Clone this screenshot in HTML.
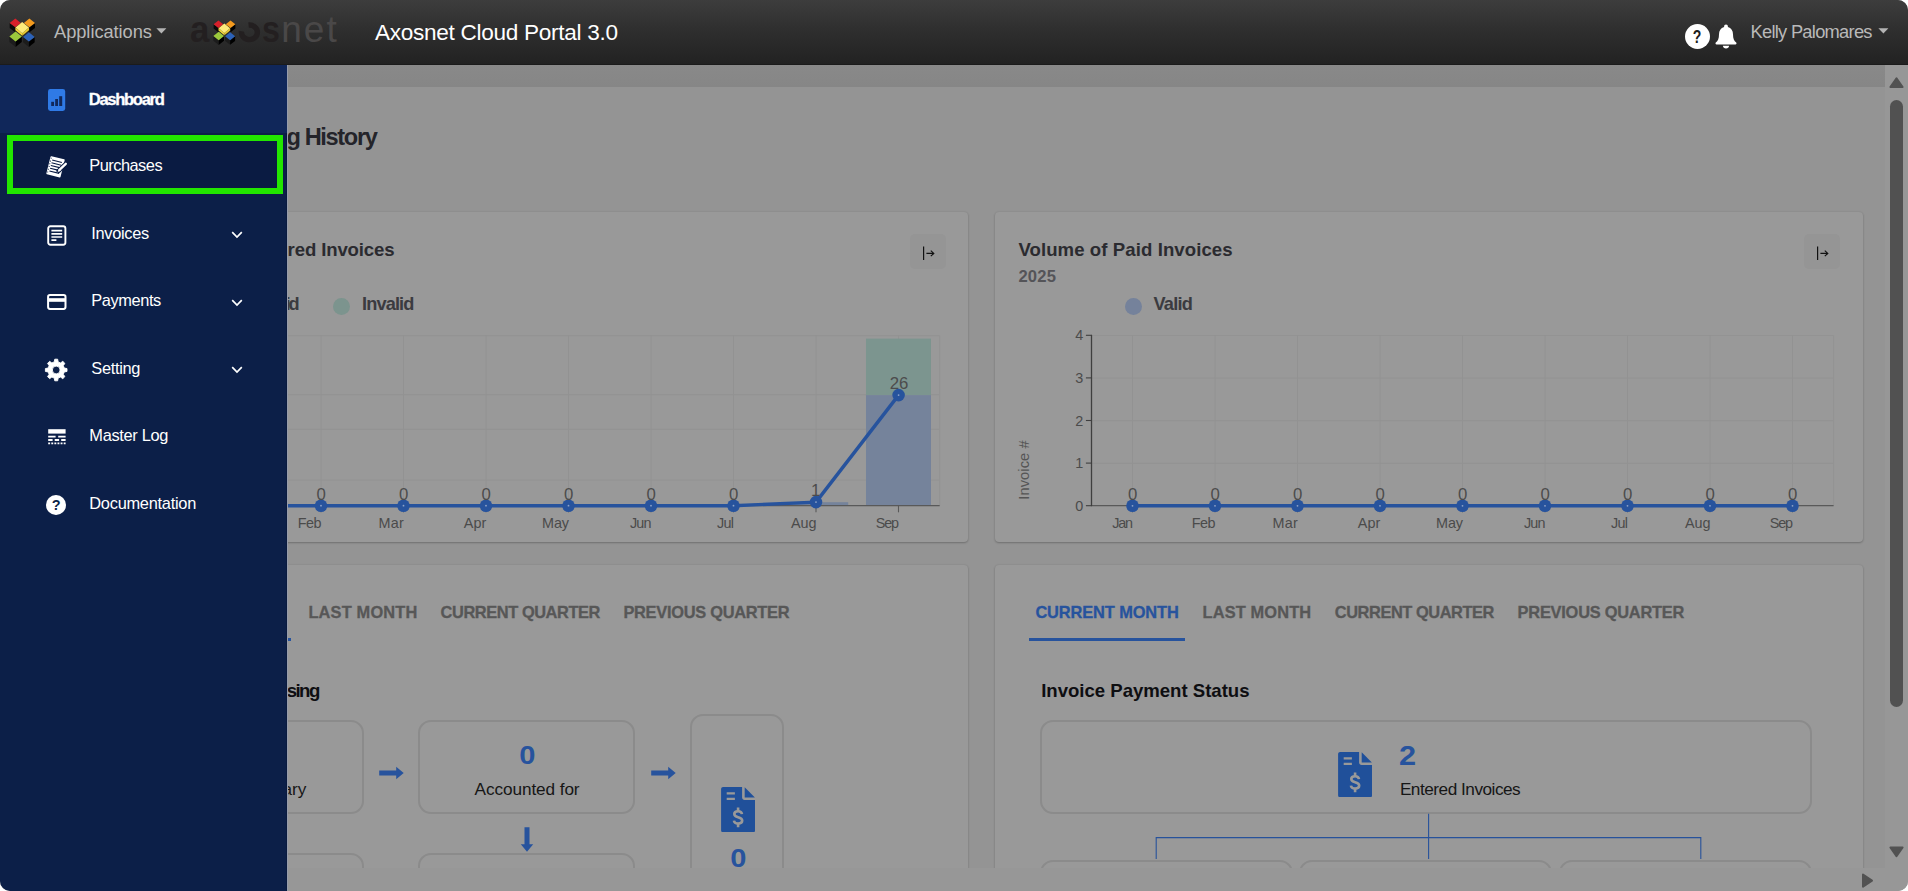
<!DOCTYPE html>
<html lang="en">
<head>
<meta charset="utf-8">
<title>Axosnet Cloud Portal 3.0</title>
<style>
*{box-sizing:border-box;margin:0;padding:0}
html,body{width:1908px;height:891px;overflow:hidden;background:#fff;font-family:"Liberation Sans",sans-serif}
#app{position:absolute;left:0;top:0;width:1908px;height:891px;border-radius:10px;overflow:hidden;background:#949494}
.abs{position:absolute}
.t{position:absolute;white-space:nowrap;line-height:1;font-family:"Liberation Sans",sans-serif}
.b{font-weight:bold}
/* header */
#hdr{position:absolute;left:0;top:0;width:1908px;height:65px;background:linear-gradient(#3d3d3d 0%,#2f2f2f 45%,#222 100%);border-bottom:1px solid #1b1b1b}
/* sidebar */
#side{position:absolute;left:0;top:65px;width:287px;height:826px;background:#0c1f48;border-right:1px solid #0a1a3e}
#edge{position:absolute;left:287px;top:65px;width:1px;height:826px;background:#969cab}
#side .act{position:absolute;left:0;top:0;width:287px;height:68px;background:#10275a}
#side .hl{position:absolute;left:7px;top:70px;width:276px;height:59px;border:6px solid #22e600;background:#0a1b42}
/* main */
#main{position:absolute;left:287px;top:65px;width:1598px;height:803px;overflow:hidden;background:#949494}
#band{position:absolute;left:0;top:0;width:1598px;height:22px;background:linear-gradient(#898989,#868686)}
.card{position:absolute;background:#999;border-radius:4px;box-shadow:0 1px 2px rgba(0,0,0,.22),0 0 2px rgba(0,0,0,.10)}
.box{position:absolute;border:2px solid #8c8c8c;border-radius:12px}
/* scrollbars */
#vsb{position:absolute;left:1885px;top:65px;width:23px;height:803px;background:#979797}
#hsb{position:absolute;left:287px;top:868px;width:1621px;height:23px;background:#979797}
</style>
</head>
<body>
<div id="app">

<!-- MAIN CONTENT (dimmed by modal backdrop) -->
<div id="main">
<div id="band"></div>
<div class="card" style="left:-187.00px;top:147.00px;width:868.00px;height:330.00px;"></div>
<div class="card" style="left:708.00px;top:147.00px;width:868.00px;height:330.00px;"></div>
<div class="card" style="left:-187.00px;top:500.00px;width:868.00px;height:420.00px;"></div>
<div class="card" style="left:708.00px;top:500.00px;width:868.00px;height:420.00px;"></div>
<div class="abs" style="left:623.20px;top:169.20px;width:35.80px;height:34.40px;background:#959595;border-radius:5px"></div>
<svg class="abs" style="left:634.70px;top:180.20px" width="14" height="16" viewBox="0 0 14 16"><path d="M1.6 1.6V15" stroke="#111" stroke-width="1.2" fill="none"/><path d="M4.4 8.4H11.6M8.8 5.6L11.8 8.4L8.8 11.2" stroke="#111" stroke-width="1.15" fill="none"/></svg>
<div class="abs" style="left:1517.30px;top:169.40px;width:35.80px;height:34.40px;background:#959595;border-radius:5px"></div>
<svg class="abs" style="left:1528.80px;top:180.40px" width="14" height="16" viewBox="0 0 14 16"><path d="M1.6 1.6V15" stroke="#111" stroke-width="1.2" fill="none"/><path d="M4.4 8.4H11.6M8.8 5.6L11.8 8.4L8.8 11.2" stroke="#111" stroke-width="1.15" fill="none"/></svg>
<div class="abs" style="left:46.00px;top:232.90px;width:17.00px;height:17.00px;background:#7c948e;border-radius:50%"></div>
<svg class="abs" style="left:0.00px;top:257.00px" width="666.70" height="218" viewBox="0 0 666.70 218"><path d="M-89.70 13.70H652.70" stroke="#939393" stroke-width="1"/><path d="M-89.70 72.70H652.70" stroke="#939393" stroke-width="1"/><path d="M-89.70 107.30H652.70" stroke="#939393" stroke-width="1"/><path d="M-89.70 158.10H652.70" stroke="#939393" stroke-width="1"/><path d="M34.00 13.50V183.50" stroke="#939393" stroke-width="1"/><path d="M116.50 13.50V183.50" stroke="#939393" stroke-width="1"/><path d="M199.00 13.50V183.50" stroke="#939393" stroke-width="1"/><path d="M281.50 13.50V183.50" stroke="#939393" stroke-width="1"/><path d="M364.00 13.50V183.50" stroke="#939393" stroke-width="1"/><path d="M446.50 13.50V183.50" stroke="#939393" stroke-width="1"/><path d="M529.00 13.50V183.50" stroke="#939393" stroke-width="1"/><path d="M611.50 13.50V183.50" stroke="#939393" stroke-width="1"/><path d="M652.70 13.50V183.50" stroke="#939393" stroke-width="1"/><rect x="579.00" y="16.60" width="65.00" height="56.50" fill="#7c958f"/><rect x="579.00" y="73.10" width="65.00" height="110.40" fill="#75839b"/><rect x="496.20" y="180.20" width="65.00" height="3.30" fill="#75839b"/><path d="M-89.70 183.60H652.70" stroke="#595959" stroke-width="1.3"/><path d="M34.00 183.60V190.30" stroke="#595959" stroke-width="1.1"/><path d="M116.50 183.60V190.30" stroke="#595959" stroke-width="1.1"/><path d="M199.00 183.60V190.30" stroke="#595959" stroke-width="1.1"/><path d="M281.50 183.60V190.30" stroke="#595959" stroke-width="1.1"/><path d="M364.00 183.60V190.30" stroke="#595959" stroke-width="1.1"/><path d="M446.50 183.60V190.30" stroke="#595959" stroke-width="1.1"/><path d="M529.00 183.60V190.30" stroke="#595959" stroke-width="1.1"/><path d="M611.50 183.60V190.30" stroke="#595959" stroke-width="1.1"/><path d="M-48.50 183.70 L34.00 183.70 L116.50 183.70 L199.00 183.70 L281.50 183.70 L364.00 183.70 L446.50 183.70 L529.00 180.10 L611.60 73.10" fill="none" stroke="#27539d" stroke-width="3.4" stroke-linejoin="round"/><circle cx="34.00" cy="183.70" r="6.3" fill="#27539d"/><circle cx="34.00" cy="183.70" r="0.9" fill="#8ea3c8"/><circle cx="116.50" cy="183.70" r="6.3" fill="#27539d"/><circle cx="116.50" cy="183.70" r="0.9" fill="#8ea3c8"/><circle cx="199.00" cy="183.70" r="6.3" fill="#27539d"/><circle cx="199.00" cy="183.70" r="0.9" fill="#8ea3c8"/><circle cx="281.50" cy="183.70" r="6.3" fill="#27539d"/><circle cx="281.50" cy="183.70" r="0.9" fill="#8ea3c8"/><circle cx="364.00" cy="183.70" r="6.3" fill="#27539d"/><circle cx="364.00" cy="183.70" r="0.9" fill="#8ea3c8"/><circle cx="446.50" cy="183.70" r="6.3" fill="#27539d"/><circle cx="446.50" cy="183.70" r="0.9" fill="#8ea3c8"/><circle cx="529.00" cy="180.10" r="6.3" fill="#27539d"/><circle cx="529.00" cy="180.10" r="0.9" fill="#8ea3c8"/><circle cx="611.60" cy="73.10" r="6.3" fill="#27539d"/><circle cx="611.60" cy="73.10" r="0.9" fill="#8ea3c8"/></svg>
<div class="abs" style="left:837.90px;top:232.60px;width:17.00px;height:17.00px;background:#75829b;border-radius:50%"></div>
<svg class="abs" style="left:783.00px;top:257.00px" width="777.60" height="218" viewBox="0 0 777.60 218"><path d="M21.50 13.50H763.60" stroke="#939393" stroke-width="1"/><path d="M21.50 56.10H763.60" stroke="#939393" stroke-width="1"/><path d="M21.50 98.70H763.60" stroke="#939393" stroke-width="1"/><path d="M21.50 141.30H763.60" stroke="#939393" stroke-width="1"/><path d="M62.50 13.50V183.50" stroke="#939393" stroke-width="1"/><path d="M145.00 13.50V183.50" stroke="#939393" stroke-width="1"/><path d="M227.50 13.50V183.50" stroke="#939393" stroke-width="1"/><path d="M310.00 13.50V183.50" stroke="#939393" stroke-width="1"/><path d="M392.50 13.50V183.50" stroke="#939393" stroke-width="1"/><path d="M475.00 13.50V183.50" stroke="#939393" stroke-width="1"/><path d="M557.50 13.50V183.50" stroke="#939393" stroke-width="1"/><path d="M640.00 13.50V183.50" stroke="#939393" stroke-width="1"/><path d="M722.50 13.50V183.50" stroke="#939393" stroke-width="1"/><path d="M763.60 13.50V183.50" stroke="#939393" stroke-width="1"/><path d="M21.50 183.60H763.60" stroke="#595959" stroke-width="1.3"/><path d="M62.50 183.60V190.30" stroke="#595959" stroke-width="1.1"/><path d="M145.00 183.60V190.30" stroke="#595959" stroke-width="1.1"/><path d="M227.50 183.60V190.30" stroke="#595959" stroke-width="1.1"/><path d="M310.00 183.60V190.30" stroke="#595959" stroke-width="1.1"/><path d="M392.50 183.60V190.30" stroke="#595959" stroke-width="1.1"/><path d="M475.00 183.60V190.30" stroke="#595959" stroke-width="1.1"/><path d="M557.50 183.60V190.30" stroke="#595959" stroke-width="1.1"/><path d="M640.00 183.60V190.30" stroke="#595959" stroke-width="1.1"/><path d="M722.50 183.60V190.30" stroke="#595959" stroke-width="1.1"/><path d="M21.50 12.80V184.20" stroke="#3f3f3f" stroke-width="1.3"/><path d="M15.90 183.70H21.50" stroke="#3f3f3f" stroke-width="1.1"/><path d="M15.90 141.10H21.50" stroke="#3f3f3f" stroke-width="1.1"/><path d="M15.90 98.50H21.50" stroke="#3f3f3f" stroke-width="1.1"/><path d="M15.90 55.90H21.50" stroke="#3f3f3f" stroke-width="1.1"/><path d="M15.90 13.30H21.50" stroke="#3f3f3f" stroke-width="1.1"/><path d="M62.50 183.80 L145.00 183.80 L227.50 183.80 L310.00 183.80 L392.50 183.80 L475.00 183.80 L557.50 183.80 L640.00 183.80 L722.50 183.80" fill="none" stroke="#27539d" stroke-width="3.4" stroke-linejoin="round"/><circle cx="62.50" cy="183.80" r="6.3" fill="#27539d"/><circle cx="62.50" cy="183.80" r="0.9" fill="#8ea3c8"/><circle cx="145.00" cy="183.80" r="6.3" fill="#27539d"/><circle cx="145.00" cy="183.80" r="0.9" fill="#8ea3c8"/><circle cx="227.50" cy="183.80" r="6.3" fill="#27539d"/><circle cx="227.50" cy="183.80" r="0.9" fill="#8ea3c8"/><circle cx="310.00" cy="183.80" r="6.3" fill="#27539d"/><circle cx="310.00" cy="183.80" r="0.9" fill="#8ea3c8"/><circle cx="392.50" cy="183.80" r="6.3" fill="#27539d"/><circle cx="392.50" cy="183.80" r="0.9" fill="#8ea3c8"/><circle cx="475.00" cy="183.80" r="6.3" fill="#27539d"/><circle cx="475.00" cy="183.80" r="0.9" fill="#8ea3c8"/><circle cx="557.50" cy="183.80" r="6.3" fill="#27539d"/><circle cx="557.50" cy="183.80" r="0.9" fill="#8ea3c8"/><circle cx="640.00" cy="183.80" r="6.3" fill="#27539d"/><circle cx="640.00" cy="183.80" r="0.9" fill="#8ea3c8"/><circle cx="722.50" cy="183.80" r="6.3" fill="#27539d"/><circle cx="722.50" cy="183.80" r="0.9" fill="#8ea3c8"/></svg>
<div class="t" style="left:697.60px;top:396.50px;width:80px;height:16px;text-align:center;font-size:14.6px;color:#555;transform:rotate(-90deg);letter-spacing:0.1px">Invoice #</div>
<div class="abs" style="left:-153.00px;top:572.80px;width:156.80px;height:3.00px;background:#27539d"></div>
<div class="abs" style="left:-140.50px;top:655.20px;width:217.00px;height:94.00px;border:2px solid #8b8b8b;border-radius:13px"></div>
<div class="abs" style="left:131.40px;top:655.20px;width:217.00px;height:94.00px;border:2px solid #8b8b8b;border-radius:13px"></div>
<div class="abs" style="left:403.20px;top:649.20px;width:93.40px;height:200.00px;border:2px solid #8b8b8b;border-radius:13px"></div>
<div class="abs" style="left:-140.50px;top:788.40px;width:217.00px;height:93.00px;border:2px solid #8b8b8b;border-radius:13px"></div>
<div class="abs" style="left:131.40px;top:788.40px;width:217.00px;height:93.00px;border:2px solid #8b8b8b;border-radius:13px"></div>
<svg class="abs" style="left:91.60px;top:700.90px" width="26" height="14" viewBox="0 0 26 14"><path d="M0.2 4.5H17.2V0.8L24.7 7L17.2 13.2V9.5H0.2Z" fill="#27539d"/></svg>
<svg class="abs" style="left:363.80px;top:700.90px" width="26" height="14" viewBox="0 0 26 14"><path d="M0.2 4.5H17.2V0.8L24.7 7L17.2 13.2V9.5H0.2Z" fill="#27539d"/></svg>
<svg class="abs" style="left:233.00px;top:761.60px" width="14" height="26" viewBox="0 0 14 26"><path d="M4.5 0.2H9.5V17.2H13.2L7 24.7L0.8 17.2H4.5Z" fill="#27539d"/></svg>
<svg class="abs" style="left:433.70px;top:721.90px" width="34.2" height="45.5" viewBox="0 0 34 45.5"><path d="M2 0H21V10.5C21 11.9 22.1 13 23.5 13H34V43.5C34 44.6 33.1 45.5 32 45.5H2C0.9 45.5 0 44.6 0 43.5V2C0 0.9 0.9 0 2 0Z" fill="#20509a"/><path d="M23.6 0.2L33.8 10.4H23.6Z" fill="#20509a"/><path d="M5.6 6.4H13.8M5.6 11.8H13.8" stroke="#999" stroke-width="2.2"/><path d="M20.9 27.1C20.6 25.1 19.1 24.2 17 24.2C14.8 24.2 13.2 25.3 13.2 27.1C13.2 28.9 14.6 29.6 17 30.2C19.5 30.8 21.1 31.6 21.1 33.5C21.1 35.4 19.3 36.6 17 36.6C14.6 36.6 13.1 35.5 12.8 33.6" fill="none" stroke="#999" stroke-width="2.6"/><path d="M17 20.6V24.8M17 36.0V40.2" stroke="#999" stroke-width="2.6"/></svg>
<div class="abs" style="left:742.00px;top:572.80px;width:156.00px;height:3.00px;background:#27539d"></div>
<div class="abs" style="left:753.40px;top:655.20px;width:771.40px;height:93.40px;border:2px solid #8b8b8b;border-radius:13px"></div>
<svg class="abs" style="left:1050.60px;top:686.80px" width="34.2" height="45.5" viewBox="0 0 34 45.5"><path d="M2 0H21V10.5C21 11.9 22.1 13 23.5 13H34V43.5C34 44.6 33.1 45.5 32 45.5H2C0.9 45.5 0 44.6 0 43.5V2C0 0.9 0.9 0 2 0Z" fill="#20509a"/><path d="M23.6 0.2L33.8 10.4H23.6Z" fill="#20509a"/><path d="M5.6 6.4H13.8M5.6 11.8H13.8" stroke="#999" stroke-width="2.2"/><path d="M20.9 27.1C20.6 25.1 19.1 24.2 17 24.2C14.8 24.2 13.2 25.3 13.2 27.1C13.2 28.9 14.6 29.6 17 30.2C19.5 30.8 21.1 31.6 21.1 33.5C21.1 35.4 19.3 36.6 17 36.6C14.6 36.6 13.1 35.5 12.8 33.6" fill="none" stroke="#999" stroke-width="2.6"/><path d="M17 20.6V24.8M17 36.0V40.2" stroke="#999" stroke-width="2.6"/></svg>
<svg class="abs" style="left:863px;top:748px" width="560" height="50" viewBox="0 0 560 50"><path d="M278.6 0.8V46M6.2 46V24.6H550.8V46" fill="none" stroke="#27529b" stroke-width="1.1"/></svg>
<div class="abs" style="left:753.40px;top:794.80px;width:253.00px;height:80.00px;border:2px solid #8b8b8b;border-radius:13px"></div>
<div class="abs" style="left:1012.40px;top:794.80px;width:253.00px;height:80.00px;border:2px solid #8b8b8b;border-radius:13px"></div>
<div class="abs" style="left:1271.80px;top:794.80px;width:253.00px;height:80.00px;border:2px solid #8b8b8b;border-radius:13px"></div>
<div class="t" style="left:-0.60px;top:61px;font-size:23.6px;color:#24242a;letter-spacing:-1.346px;font-weight:bold;">g History</div>
<div class="t" style="left:0.60px;top:176px;font-size:18.6px;color:#2b2b30;letter-spacing:-0.138px;font-weight:bold;">red Invoices</div>
<div class="t" style="left:1.48px;top:230px;font-size:18.2px;color:#3b3b40;font-weight:bold;">d</div>
<div class="t" style="left:-1.40px;top:230px;font-size:18.2px;color:#3b3b40;font-weight:bold;">i</div>
<div class="t" style="left:75.00px;top:230px;font-size:18.2px;color:#3b3b40;letter-spacing:-0.868px;font-weight:bold;">Invalid</div>
<div class="t" style="left:10.80px;top:451px;font-size:14.4px;color:#4b4b4b;letter-spacing:-0.606px;">Feb</div>
<div class="t" style="left:91.50px;top:451px;font-size:14.4px;color:#4b4b4b;letter-spacing:0.302px;">Mar</div>
<div class="t" style="left:176.80px;top:451px;font-size:14.4px;color:#4b4b4b;letter-spacing:0.097px;">Apr</div>
<div class="t" style="left:255.10px;top:451px;font-size:14.4px;color:#4b4b4b;letter-spacing:-0.194px;">May</div>
<div class="t" style="left:343.00px;top:451px;font-size:14.4px;color:#4b4b4b;letter-spacing:-0.902px;">Jun</div>
<div class="t" style="left:430.10px;top:451px;font-size:14.4px;color:#4b4b4b;letter-spacing:-0.803px;">Jul</div>
<div class="t" style="left:504.10px;top:451px;font-size:14.4px;color:#4b4b4b;letter-spacing:-0.155px;">Aug</div>
<div class="t" style="left:588.80px;top:451px;font-size:14.4px;color:#4b4b4b;letter-spacing:-1.255px;">Sep</div>
<div class="t" style="left:29.53px;top:422px;font-size:16.8px;color:#4c4c4c;">0</div>
<div class="t" style="left:112.03px;top:422px;font-size:16.8px;color:#4c4c4c;">0</div>
<div class="t" style="left:194.53px;top:422px;font-size:16.8px;color:#4c4c4c;">0</div>
<div class="t" style="left:277.03px;top:422px;font-size:16.8px;color:#4c4c4c;">0</div>
<div class="t" style="left:359.53px;top:422px;font-size:16.8px;color:#4c4c4c;">0</div>
<div class="t" style="left:442.03px;top:422px;font-size:16.8px;color:#4c4c4c;">0</div>
<div class="t" style="left:523.93px;top:418px;font-size:16.8px;color:#4c4c4c;">1</div>
<div class="t" style="left:602.66px;top:311px;font-size:16.8px;color:#4c4c4c;">26</div>
<div class="t" style="left:731.40px;top:176px;font-size:18.6px;color:#2b2b30;letter-spacing:0.077px;font-weight:bold;">Volume of Paid Invoices</div>
<div class="t" style="left:731.40px;top:204px;font-size:16.6px;color:#545458;letter-spacing:0.226px;font-weight:bold;">2025</div>
<div class="t" style="left:866.40px;top:230px;font-size:18.2px;color:#3b3b40;letter-spacing:-0.717px;font-weight:bold;">Valid</div>
<div class="t" style="left:825.30px;top:451px;font-size:14.4px;color:#4b4b4b;letter-spacing:-1.302px;">Jan</div>
<div class="t" style="left:904.80px;top:451px;font-size:14.4px;color:#4b4b4b;letter-spacing:-0.606px;">Feb</div>
<div class="t" style="left:985.50px;top:451px;font-size:14.4px;color:#4b4b4b;letter-spacing:0.302px;">Mar</div>
<div class="t" style="left:1070.80px;top:451px;font-size:14.4px;color:#4b4b4b;letter-spacing:0.097px;">Apr</div>
<div class="t" style="left:1149.10px;top:451px;font-size:14.4px;color:#4b4b4b;letter-spacing:-0.194px;">May</div>
<div class="t" style="left:1237.00px;top:451px;font-size:14.4px;color:#4b4b4b;letter-spacing:-0.902px;">Jun</div>
<div class="t" style="left:1324.10px;top:451px;font-size:14.4px;color:#4b4b4b;letter-spacing:-0.803px;">Jul</div>
<div class="t" style="left:1398.10px;top:451px;font-size:14.4px;color:#4b4b4b;letter-spacing:-0.155px;">Aug</div>
<div class="t" style="left:1482.80px;top:451px;font-size:14.4px;color:#4b4b4b;letter-spacing:-1.255px;">Sep</div>
<div class="t" style="left:841.03px;top:422px;font-size:16.8px;color:#4c4c4c;">0</div>
<div class="t" style="left:923.53px;top:422px;font-size:16.8px;color:#4c4c4c;">0</div>
<div class="t" style="left:1006.03px;top:422px;font-size:16.8px;color:#4c4c4c;">0</div>
<div class="t" style="left:1088.53px;top:422px;font-size:16.8px;color:#4c4c4c;">0</div>
<div class="t" style="left:1171.03px;top:422px;font-size:16.8px;color:#4c4c4c;">0</div>
<div class="t" style="left:1253.53px;top:422px;font-size:16.8px;color:#4c4c4c;">0</div>
<div class="t" style="left:1336.03px;top:422px;font-size:16.8px;color:#4c4c4c;">0</div>
<div class="t" style="left:1418.53px;top:422px;font-size:16.8px;color:#4c4c4c;">0</div>
<div class="t" style="left:1501.03px;top:422px;font-size:16.8px;color:#4c4c4c;">0</div>
<div class="t" style="left:788.18px;top:434px;font-size:14.4px;color:#4b4b4b;">0</div>
<div class="t" style="left:788.18px;top:391px;font-size:14.4px;color:#4b4b4b;">1</div>
<div class="t" style="left:788.18px;top:349px;font-size:14.4px;color:#4b4b4b;">2</div>
<div class="t" style="left:788.18px;top:306px;font-size:14.4px;color:#4b4b4b;">3</div>
<div class="t" style="left:788.18px;top:263px;font-size:14.4px;color:#4b4b4b;">4</div>
<div class="t" style="left:21.40px;top:539px;font-size:16.4px;color:#575757;letter-spacing:0.174px;font-weight:bold;-webkit-text-stroke:0.3px currentColor;">LAST MONTH</div>
<div class="t" style="left:153.60px;top:539px;font-size:16.4px;color:#575757;letter-spacing:-0.424px;font-weight:bold;-webkit-text-stroke:0.3px currentColor;">CURRENT QUARTER</div>
<div class="t" style="left:336.40px;top:539px;font-size:16.4px;color:#575757;letter-spacing:-0.274px;font-weight:bold;-webkit-text-stroke:0.3px currentColor;">PREVIOUS QUARTER</div>
<div class="t" style="left:-0.30px;top:617px;font-size:18.6px;color:#0e0e11;letter-spacing:-1.545px;font-weight:bold;">sing</div>
<div class="t" style="left:-4.59px;top:716px;font-size:17.2px;color:#161616;">ary</div>
<div class="t" style="left:232.66px;top:677px;font-size:26.4px;color:#27539d;font-weight:bold;transform:scaleX(1.1);">0</div>
<div class="t" style="left:187.60px;top:716px;font-size:17.2px;color:#161616;letter-spacing:-0.089px;">Accounted for</div>
<div class="t" style="left:443.66px;top:780px;font-size:26.4px;color:#27539d;font-weight:bold;transform:scaleX(1.1);">0</div>
<div class="t" style="left:748.40px;top:539px;font-size:16.4px;color:#27539d;letter-spacing:-0.115px;font-weight:bold;-webkit-text-stroke:0.3px currentColor;">CURRENT MONTH</div>
<div class="t" style="left:915.60px;top:539px;font-size:16.4px;color:#575757;letter-spacing:0.129px;font-weight:bold;-webkit-text-stroke:0.3px currentColor;">LAST MONTH</div>
<div class="t" style="left:1047.80px;top:539px;font-size:16.4px;color:#575757;letter-spacing:-0.438px;font-weight:bold;-webkit-text-stroke:0.3px currentColor;">CURRENT QUARTER</div>
<div class="t" style="left:1230.60px;top:539px;font-size:16.4px;color:#575757;letter-spacing:-0.234px;font-weight:bold;-webkit-text-stroke:0.3px currentColor;">PREVIOUS QUARTER</div>
<div class="t" style="left:754.20px;top:617px;font-size:18.6px;color:#0e0e11;letter-spacing:-0.021px;font-weight:bold;">Invoice Payment Status</div>
<div class="t" style="left:1112.00px;top:676px;font-size:28.4px;color:#27539d;font-weight:bold;transform:scaleX(1.08);transform-origin:0 0;">2</div>
<div class="t" style="left:1112.90px;top:716px;font-size:17.2px;color:#161616;letter-spacing:-0.482px;">Entered Invoices</div>
</div>

<!-- SCROLLBARS -->
<div id="vsb">
<svg class="abs" style="left:0;top:0" width="23" height="803" viewBox="0 0 23 803">
<path d="M11.5 13.2 L17.6 22 L5.4 22 Z" fill="#525252" stroke="#525252" stroke-width="2" stroke-linejoin="round"/>
<rect x="5" y="35" width="13" height="607" rx="6.5" fill="#515151"/>
<path d="M5.4 782.5 L17.6 782.5 L11.5 791.3 Z" fill="#525252" stroke="#525252" stroke-width="2" stroke-linejoin="round"/>
</svg>
</div>
<div id="hsb">
<svg class="abs" style="left:0;top:0" width="1621" height="23" viewBox="0 0 1621 23">
<path d="M1576 6.5 L1585 12.6 L1576 18.7 Z" fill="#525252" stroke="#525252" stroke-width="2" stroke-linejoin="round"/>
</svg>
</div>

<div id="edge"></div>
<!-- SIDEBAR -->
<div id="side">
<div class="act"></div>
<div class="hl"></div>
<svg class="abs" style="left:47.6px;top:24px" width="18" height="22" viewBox="0 0 18 22"><rect x="0" y="0" width="17.2" height="22" rx="2.4" fill="#2f7ae6"/><rect x="3.2" y="12.8" width="2.8" height="4.2" fill="#11285b"/><rect x="7.2" y="10" width="2.8" height="7" fill="#11285b"/><rect x="11.2" y="7.2" width="3" height="9.8" fill="#11285b"/></svg>
<svg class="abs" style="left:44px;top:90px" width="24" height="24" viewBox="0 0 24 24"><g transform="rotate(14 12 12)"><rect x="4.2" y="2.6" width="14.6" height="18.6" rx="0.8" fill="#fff"/><g stroke="#0a1b42" stroke-width="1.15"><path d="M6.6 6.2H16.6M6.6 9H16.6M6.6 11.8H16.6M6.6 14.6H16.6M6.6 17.4H16.6"/></g><g fill="#0a1b42"><circle cx="5.2" cy="4.6" r="0.55"/><circle cx="5.2" cy="7.6" r="0.55"/><circle cx="5.2" cy="10.4" r="0.55"/><circle cx="5.2" cy="13.2" r="0.55"/><circle cx="5.2" cy="16" r="0.55"/><circle cx="5.2" cy="18.8" r="0.55"/></g></g><path d="M21.6 9.0 L14.6 15.8" stroke="#0a1b42" stroke-width="4.4" stroke-linecap="round"/><path d="M21.8 8.8 L15.2 15.2" stroke="#fff" stroke-width="2.3" stroke-linecap="round"/><path d="M15.9 14.2 L13.0 17.6 L16.9 15.6 Z" fill="#fff"/></svg>
<svg class="abs" style="left:46.6px;top:159.6px" width="20" height="21" viewBox="0 0 20 21"><rect x="1.2" y="1.2" width="17.2" height="18.6" rx="2.2" fill="none" stroke="#fff" stroke-width="1.9"/><path d="M4.4 5.6H15.2M4.4 8.8H15.2M4.4 12H15.2M4.4 15.2H9.4" stroke="#fff" stroke-width="1.7"/></svg>
<svg class="abs" style="left:231px;top:166.4px" width="12" height="8" viewBox="0 0 12 8"><path d="M1.2 1.2 L6 6 L10.8 1.2" fill="none" stroke="#fff" stroke-width="1.7"/></svg>
<svg class="abs" style="left:46.6px;top:229.2px" width="20" height="17" viewBox="0 0 20 17"><rect x="1.1" y="1.1" width="17.4" height="13.8" rx="1.8" fill="none" stroke="#fff" stroke-width="2"/><rect x="1.1" y="4.2" width="17.4" height="3.6" fill="#fff"/></svg>
<svg class="abs" style="left:231px;top:233.6px" width="12" height="8" viewBox="0 0 12 8"><path d="M1.2 1.2 L6 6 L10.8 1.2" fill="none" stroke="#fff" stroke-width="1.7"/></svg>
<svg class="abs" style="left:44px;top:293px" width="24" height="24" viewBox="0 0 24 24"><path d="M10.26 3.93 L10.75 1.20 L13.65 1.20 L14.14 3.93 L16.54 4.92 L18.81 3.34 L20.86 5.39 L19.28 7.66 L20.27 10.06 L23.00 10.55 L23.00 13.45 L20.27 13.94 L19.28 16.34 L20.86 18.61 L18.81 20.66 L16.54 19.08 L14.14 20.07 L13.65 22.80 L10.75 22.80 L10.26 20.07 L7.86 19.08 L5.59 20.66 L3.54 18.61 L5.12 16.34 L4.13 13.94 L1.40 13.45 L1.40 10.55 L4.13 10.06 L5.12 7.66 L3.54 5.39 L5.59 3.34 L7.86 4.92 Z M8.299999999999999 12 a3.9 3.9 0 1 0 7.8 0 a3.9 3.9 0 1 0 -7.8 0 Z" fill="#fff" fill-rule="evenodd" stroke="#fff" stroke-width="0.9" stroke-linejoin="round"/></svg>
<svg class="abs" style="left:231px;top:301.3px" width="12" height="8" viewBox="0 0 12 8"><path d="M1.2 1.2 L6 6 L10.8 1.2" fill="none" stroke="#fff" stroke-width="1.7"/></svg>
<svg class="abs" style="left:47.6px;top:364.4px" width="18" height="16" viewBox="0 0 18 16"><rect x="0.2" y="0.2" width="17.4" height="4.4" fill="#fff"/><path d="M0.2 7.6H7.6M10.2 7.6H17.6" stroke="#fff" stroke-width="1.8"/><path d="M0.2 11H4.6M6.7 11H11.1M13.2 11H17.6" stroke="#fff" stroke-width="1.8"/><path d="M0.2 14.4H2.1M3.3 14.4H5.2M6.4 14.4H8.3M9.5 14.4H11.4M12.6 14.4H14.5M15.7 14.4H17.6" stroke="#fff" stroke-width="1.8"/></svg>
<div class="abs" style="left:46.4px;top:430.2px;width:19.8px;height:19.8px;border-radius:50%;background:#fff"></div>
<div class="t" style="left:88.80px;top:27px;font-size:16.6px;color:#ffffff;letter-spacing:-1.334px;font-weight:bold;-webkit-text-stroke:0.3px #fff;">Dashboard</div>
<div class="t" style="left:89.30px;top:92px;font-size:16.4px;color:#ffffff;letter-spacing:-0.519px;">Purchases</div>
<div class="t" style="left:91.30px;top:160px;font-size:16.4px;color:#ffffff;letter-spacing:-0.320px;">Invoices</div>
<div class="t" style="left:91.30px;top:227px;font-size:16.4px;color:#ffffff;letter-spacing:-0.413px;">Payments</div>
<div class="t" style="left:91.30px;top:295px;font-size:16.4px;color:#ffffff;letter-spacing:-0.322px;">Setting</div>
<div class="t" style="left:89.30px;top:362px;font-size:16.4px;color:#ffffff;letter-spacing:-0.322px;">Master Log</div>
<div class="t" style="left:51.87px;top:433px;font-size:14.5px;color:#0c1f48;font-weight:bold;">?</div>
<div class="t" style="left:89.30px;top:430px;font-size:16.4px;color:#ffffff;letter-spacing:-0.271px;">Documentation</div>
</div>

<!-- HEADER -->
<div id="hdr">
<svg class="abs" style="left:9.1px;top:17.9px" width="27.00" height="30.00" viewBox="0 0 27 30"><path d="M0.7000000000000002 4.9 L6.3 9.2 L6.3 14.2 L0.7000000000000002 9.9 Z" fill="#0a0a0a"/><path d="M11.899999999999999 4.9 L6.3 9.2 L6.3 14.2 L11.899999999999999 9.9 Z" fill="#000"/><path d="M6.3 0.6000000000000005 L11.899999999999999 4.9 L6.3 9.2 L0.7000000000000002 4.9 Z" fill="#d7202a"/><path d="M14.799999999999999 4.9 L20.4 9.2 L20.4 14.2 L14.799999999999999 9.9 Z" fill="#0a0a0a"/><path d="M26.0 4.9 L20.4 9.2 L20.4 14.2 L26.0 9.9 Z" fill="#000"/><path d="M20.4 0.6000000000000005 L26.0 4.9 L20.4 9.2 L14.799999999999999 4.9 Z" fill="#f39a1e"/><path d="M0.39999999999999947 18.6 L6.6 23.6 L6.6 29.0 L0.39999999999999947 24.0 Z" fill="#1c1c1c"/><path d="M12.8 18.6 L6.6 23.6 L6.6 29.0 L12.8 24.0 Z" fill="#000"/><path d="M6.6 13.600000000000001 L12.8 18.6 L6.6 23.6 L0.39999999999999947 18.6 Z" fill="#9bc93c"/><path d="M14.099999999999998 18.9 L19.9 23.5 L19.9 28.9 L14.099999999999998 24.299999999999997 Z" fill="#1c1c1c"/><path d="M25.7 18.9 L19.9 23.5 L19.9 28.9 L25.7 24.299999999999997 Z" fill="#000"/><path d="M19.9 14.299999999999999 L25.7 18.9 L19.9 23.5 L14.099999999999998 18.9 Z" fill="#2c62b8"/><path d="M6.3999999999999995 9.6 L13.2 15.2 L13.2 17.8 L6.3999999999999995 12.2 Z" fill="#f2d63a"/><path d="M20.0 9.6 L13.2 15.2 L13.2 17.8 L20.0 12.2 Z" fill="#e9c92d"/><path d="M13.2 4.0 L20.0 9.6 L13.2 15.2 L6.3999999999999995 9.6 Z" fill="#fdea7a"/></svg>
<svg class="abs" style="left:155.5px;top:27.6px" width="11" height="6" viewBox="0 0 11 6"><path d="M0.4 0.3 L10.4 0.3 L5.4 5.5 Z" fill="#b4b4b4"/></svg>
<svg class="abs" style="left:213.2px;top:20.2px" width="23.22" height="25.80" viewBox="0 0 27 30"><path d="M0.7000000000000002 4.9 L6.3 9.2 L6.3 14.2 L0.7000000000000002 9.9 Z" fill="#0a0a0a"/><path d="M11.899999999999999 4.9 L6.3 9.2 L6.3 14.2 L11.899999999999999 9.9 Z" fill="#000"/><path d="M6.3 0.6000000000000005 L11.899999999999999 4.9 L6.3 9.2 L0.7000000000000002 4.9 Z" fill="#d7202a"/><path d="M14.799999999999999 4.9 L20.4 9.2 L20.4 14.2 L14.799999999999999 9.9 Z" fill="#0a0a0a"/><path d="M26.0 4.9 L20.4 9.2 L20.4 14.2 L26.0 9.9 Z" fill="#000"/><path d="M20.4 0.6000000000000005 L26.0 4.9 L20.4 9.2 L14.799999999999999 4.9 Z" fill="#f39a1e"/><path d="M0.39999999999999947 18.6 L6.6 23.6 L6.6 29.0 L0.39999999999999947 24.0 Z" fill="#1c1c1c"/><path d="M12.8 18.6 L6.6 23.6 L6.6 29.0 L12.8 24.0 Z" fill="#000"/><path d="M6.6 13.600000000000001 L12.8 18.6 L6.6 23.6 L0.39999999999999947 18.6 Z" fill="#9bc93c"/><path d="M14.099999999999998 18.9 L19.9 23.5 L19.9 28.9 L14.099999999999998 24.299999999999997 Z" fill="#1c1c1c"/><path d="M25.7 18.9 L19.9 23.5 L19.9 28.9 L25.7 24.299999999999997 Z" fill="#000"/><path d="M19.9 14.299999999999999 L25.7 18.9 L19.9 23.5 L14.099999999999998 18.9 Z" fill="#2c62b8"/><path d="M6.3999999999999995 9.6 L13.2 15.2 L13.2 17.8 L6.3999999999999995 12.2 Z" fill="#f2d63a"/><path d="M20.0 9.6 L13.2 15.2 L13.2 17.8 L20.0 12.2 Z" fill="#e9c92d"/><path d="M13.2 4.0 L20.0 9.6 L13.2 15.2 L6.3999999999999995 9.6 Z" fill="#fdea7a"/></svg>
<svg class="abs" style="left:230px;top:15px" width="40" height="34" viewBox="230 15 40 34"><path d="M248.56 25.04 A8.0 7.3 0 1 1 241.48 31.28" fill="none" stroke="#231f20" stroke-width="5.4"/></svg>
<div class="abs" style="left:1684.8px;top:24.2px;width:25.2px;height:25.2px;border-radius:50%;background:#fff"></div>
<div class="t b" style="left:1687.4px;top:29px;width:20px;text-align:center;font-size:17.6px;color:#1d1d1d;transform:scaleX(0.8)">?</div>
<svg class="abs" style="left:1714.5px;top:24px" width="22" height="25" viewBox="0 0 22 25"><path d="M11 0.6 C12.2 0.6 12.9 1.5 12.9 2.5 L12.9 3.0 C16.3 3.9 18.0 6.8 18.0 10.2 C18.0 14.6 19.1 16.8 21.2 18.6 C21.8 19.2 21.5 20.6 20.4 20.6 L1.6 20.6 C0.5 20.6 0.2 19.2 0.8 18.6 C2.9 16.8 4.0 14.6 4.0 10.2 C4.0 6.8 5.7 3.9 9.1 3.0 L9.1 2.5 C9.1 1.5 9.8 0.6 11 0.6 Z" fill="#fff"/><path d="M7.9 21.8 L14.1 21.8 C14.1 23.4 12.7 24.6 11 24.6 C9.3 24.6 7.9 23.4 7.9 21.8 Z" fill="#fff"/></svg>
<svg class="abs" style="left:1877.5px;top:27.6px" width="11" height="6" viewBox="0 0 11 6"><path d="M0.4 0.3 L10.4 0.3 L5.4 5.5 Z" fill="#b4b4b4"/></svg>
<div class="t" style="left:54.00px;top:23px;font-size:18.3px;color:#b9b9b9;letter-spacing:-0.053px;">Applications</div>
<div class="t" style="left:190.20px;top:11px;font-size:37.5px;color:#231f20;font-weight:bold;transform:scaleX(0.93);transform-origin:0 0;">a</div>
<div class="t" style="left:262.00px;top:11px;font-size:37.5px;color:#231f20;font-weight:bold;transform:scaleX(0.86);transform-origin:0 0;">s</div>
<div class="t" style="left:281.20px;top:11px;font-size:37.0px;color:#4a4848;letter-spacing:2.031px;">net</div>
<div class="t" style="left:375.00px;top:22px;font-size:22.6px;color:#ffffff;letter-spacing:-0.302px;">Axosnet Cloud Portal 3.0</div>
<div class="t" style="left:1750.50px;top:23px;font-size:18.3px;color:#b9b9b9;letter-spacing:-0.721px;">Kelly Palomares</div>
</div>

</div>
</body>
</html>
